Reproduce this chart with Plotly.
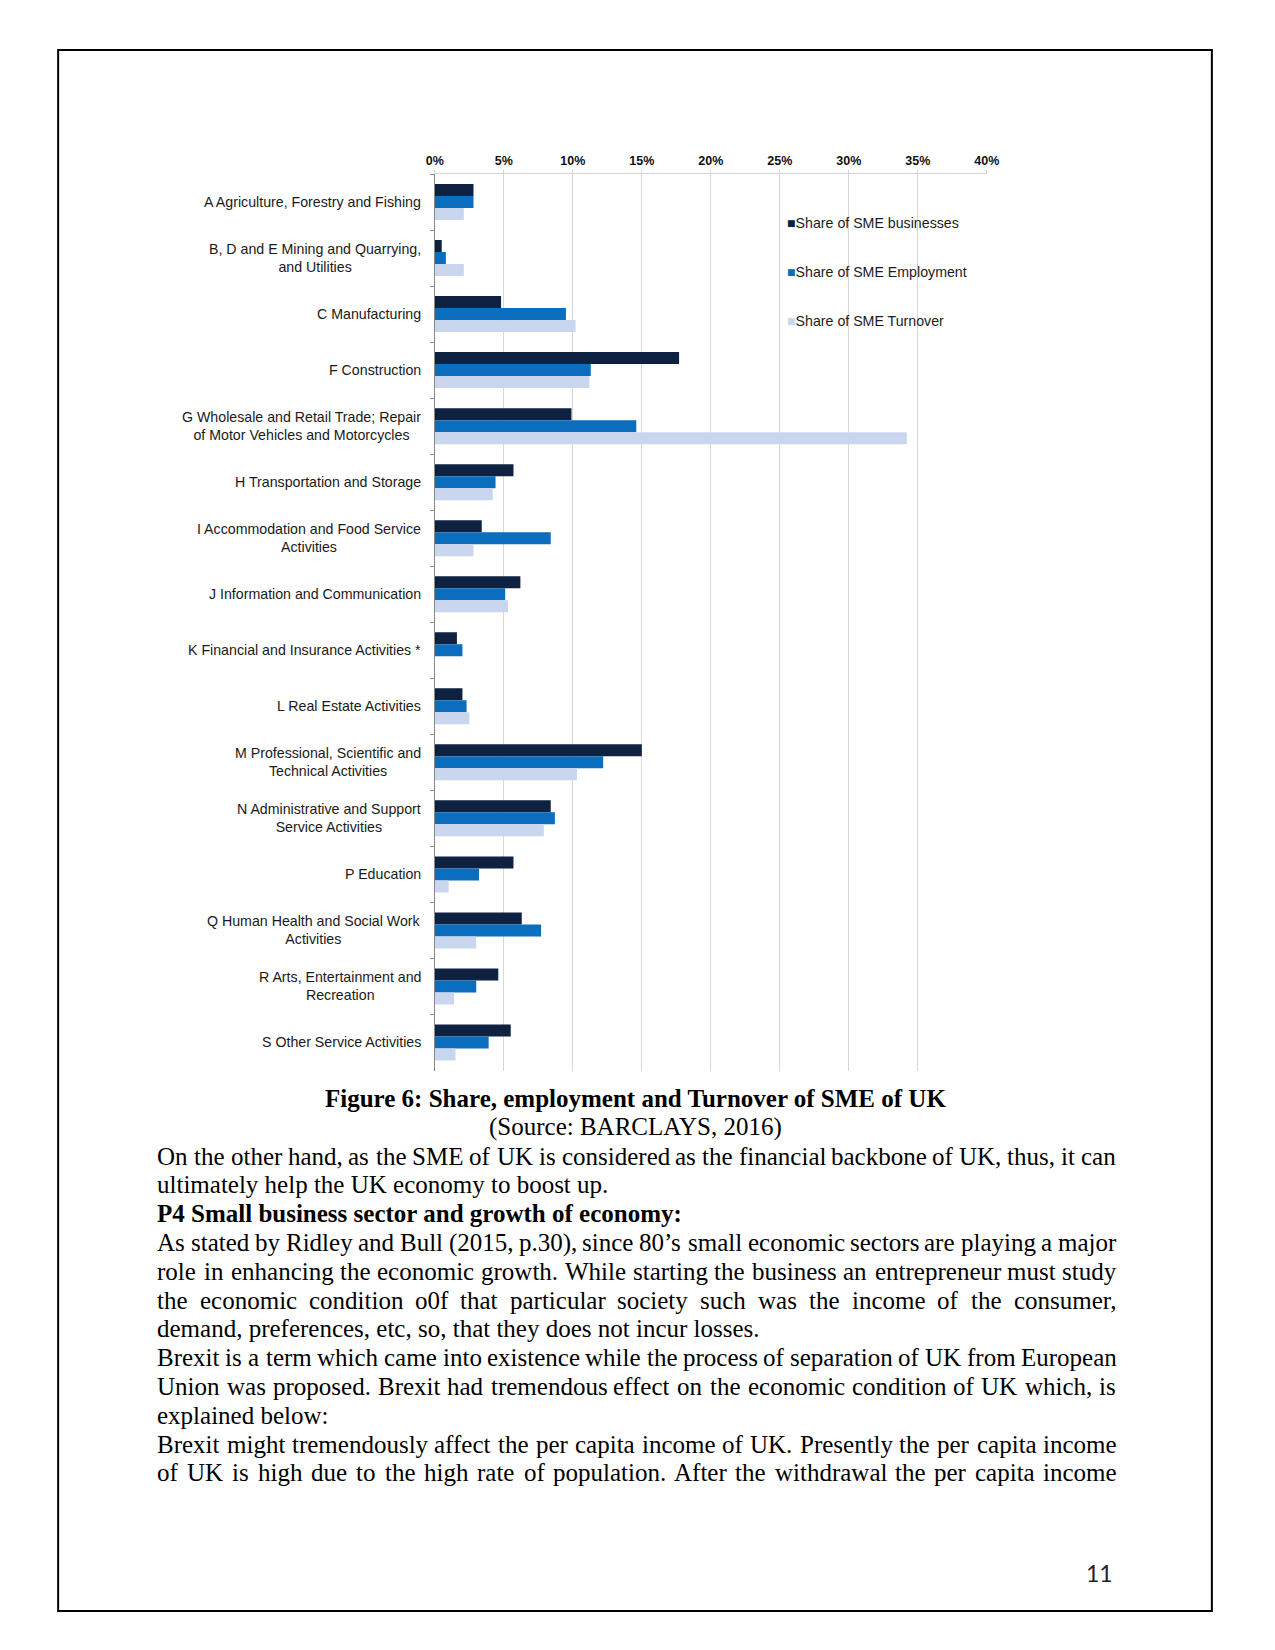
import plotly.graph_objects as go

# ---------------- data ----------------
categories = [
    "A Agriculture, Forestry and Fishing",
    "B, D and E Mining and Quarrying,<br>and Utilities",
    "C Manufacturing",
    "F Construction",
    "G Wholesale and Retail Trade; Repair<br>of Motor Vehicles and Motorcycles",
    "H Transportation and Storage",
    "I Accommodation and Food Service<br>Activities",
    "J Information and Communication",
    "K Financial and Insurance Activities *",
    "L Real Estate Activities",
    "M Professional, Scientific and<br>Technical Activities",
    "N Administrative and Support<br>Service Activities",
    "P Education",
    "Q Human Health and Social Work<br>Activities",
    "R Arts, Entertainment and<br>Recreation",
    "S Other Service Activities",
]
share_businesses = [2.8, 0.5, 4.8, 17.7, 9.9, 5.7, 3.4, 6.2, 1.6, 2.0, 15.0, 8.4, 5.7, 6.3, 4.6, 5.5]
share_employment = [2.8, 0.8, 9.5, 11.3, 14.6, 4.4, 8.4, 5.1, 2.0, 2.3, 12.2, 8.7, 3.2, 7.7, 3.0, 3.9]
share_turnover = [2.1, 2.1, 10.2, 11.2, 34.2, 4.2, 2.8, 5.3, None, 2.5, 10.3, 7.9, 1.0, 3.0, 1.4, 1.5]
series_names = ["Share of SME businesses", "Share of SME Employment", "Share of SME Turnover"]
tick_values = [0, 5, 10, 15, 20, 25, 30, 35, 40]
tick_labels = ["0%", "5%", "10%", "15%", "20%", "25%", "30%", "35%", "40%"]

caption = "Figure 6: Share, employment and Turnover of SME of UK"
source = "(Source: BARCLAYS, 2016)"
body_lines = [
    ("On the other hand, as the SME of UK is considered as the financial backbone of UK, thus, it can", "j"),
    ("ultimately help the UK economy to boost up.", "l"),
    ("P4 Small business sector and growth of economy:", "lb"),
    ("As stated by Ridley and Bull (2015, p.30), since 80\u2019s small economic sectors are playing a major", "j"),
    ("role in enhancing the economic growth. While starting the business an entrepreneur must study", "j"),
    ("the economic condition o0f that particular society such was the income of the consumer,", "j"),
    ("demand, preferences, etc, so, that they does not incur losses.", "l"),
    ("Brexit is a term which came into existence while the process of separation of UK from European", "j"),
    ("Union was proposed. Brexit had tremendous effect on the economic condition of UK which, is", "j"),
    ("explained below:", "l"),
    ("Brexit might tremendously affect the per capita income of UK. Presently the per capita income", "j"),
    ("of UK is high due to the high rate of population. After the withdrawal the per capita income", "j"),
]
page_number = "11"

# ---------------- layout constants ----------------
W, H = 1275, 1650
colors = ["#0e2140", "#0a6dbd", "#c9d6ee"]
X0, X40 = 433.3, 995.0        # pixel positions of 0% and 40%
PT, PB = 174.0, 1070.5        # plot top / bottom in pixels


def px(x):
    return x / W


def py(y):
    return 1 - y / H


fig = go.Figure()
for name, vals, col in zip(series_names, [share_businesses, share_employment, share_turnover], colors):
    fig.add_trace(go.Bar(
        y=categories, x=vals, name=name, orientation="h",
        marker=dict(color=col, line=dict(width=0)),
    ))

fig.update_layout(
    width=W, height=H, autosize=False,
    margin=dict(l=0, r=0, t=0, b=0),
    paper_bgcolor="white", plot_bgcolor="white",
    barmode="group", bargap=0.357, bargroupgap=0,
    showlegend=False,
    font=dict(family="Liberation Sans", color="#222"),
)
fig.update_xaxes(
    domain=[px(X0), px(X40)], range=[0, 40], side="top",
    tickvals=tick_values, ticktext=["<b>%s</b>" % t for t in tick_labels],
    tickfont=dict(family="Liberation Sans", size=12.5, color="#111"),
    showgrid=True, gridcolor="#d6d6d6", gridwidth=1,
    zeroline=False, showline=True, linecolor="#d4d4d4", linewidth=1,
    ticks="outside", ticklen=3, tickcolor="#d4d4d4",
)
fig.update_yaxes(
    domain=[py(PB), py(PT)], type="category", autorange="reversed",
    showticklabels=False, ticks="outside", tickson="boundaries", ticklen=4,
    tickcolor="#888", showline=True, linecolor="#888", linewidth=1,
    showgrid=False, zeroline=False,
)

annotations = []
# category labels (centered multi-line blocks, right edge near the axis)
for c in categories:
    annotations.append(dict(
        x=px(421), xref="paper", y=c, yref="y", text=c, showarrow=False,
        xanchor="right", yanchor="middle", align="center",
        font=dict(family="Liberation Sans", size=14.2, color="#1a1a1a"),
    ))
# legend
for i, (name, col) in enumerate(zip(series_names, colors)):
    annotations.append(dict(
        x=px(790), xref="paper", y=py(222.5 + 49.5 * i), yref="paper",
        text="<span style='color:%s'>\u25a0</span>%s" % (col, name),
        showarrow=False, xanchor="left", yanchor="middle",
        font=dict(family="Liberation Sans", size=14.2, color="#1c1c1c"),
    ))

# ---------------- page text ----------------
TIMES = {
    ' ': 250, '!': 333, '"': 408, "'": 180, '(': 333, ')': 333, ',': 250, '-': 333, '.': 250,
    '/': 278, ':': 278, ';': 278, '*': 500, '\u2019': 333,
    'A': 722, 'B': 667, 'C': 667, 'D': 722, 'E': 611, 'F': 556, 'G': 722, 'H': 722, 'I': 333,
    'J': 389, 'K': 722, 'L': 611, 'M': 889, 'N': 722, 'O': 722, 'P': 556, 'Q': 722, 'R': 667,
    'S': 556, 'T': 611, 'U': 722, 'V': 722, 'W': 944, 'X': 722, 'Y': 722, 'Z': 611,
    'a': 444, 'b': 500, 'c': 444, 'd': 500, 'e': 444, 'f': 333, 'g': 500, 'h': 500, 'i': 278,
    'j': 278, 'k': 500, 'l': 278, 'm': 778, 'n': 500, 'o': 500, 'p': 500, 'q': 500, 'r': 333,
    's': 389, 't': 278, 'u': 500, 'v': 500, 'w': 722, 'x': 500, 'y': 500, 'z': 444,
}
FS = 25
LEFT, RIGHT = 150.0, 1125.0


def text_width(s):
    return sum(TIMES.get(ch, 500) for ch in s) / 1000.0 * FS


serif = dict(family="Liberation Serif", size=FS, color="black")

Y0, DY = 1098.5, 28.8
annotations.append(dict(x=px(637.5), xref="paper", y=py(Y0), yref="paper", text="<b>%s</b>" % caption,
                        showarrow=False, xanchor="center", yanchor="middle", font=serif, borderpad=0))
annotations.append(dict(x=px(637.5), xref="paper", y=py(Y0 + DY), yref="paper", text=source,
                        showarrow=False, xanchor="center", yanchor="middle", font=serif, borderpad=0))

for k, (line, kind) in enumerate(body_lines):
    yy = py(Y0 + DY * (k + 2))
    if kind == "j":
        words = line.split(" ")
        widths = [text_width(w) for w in words]
        gap = (RIGHT - LEFT - sum(widths)) / (len(words) - 1)
        xx = LEFT
        for w, wd in zip(words, widths):
            annotations.append(dict(x=px(xx), xref="paper", y=yy, yref="paper", text=w,
                                    showarrow=False, xanchor="left", yanchor="middle",
                                    font=serif, borderpad=0))
            xx += wd + gap
    else:
        txt = "<b>%s</b>" % line if kind == "lb" else line
        annotations.append(dict(x=px(LEFT), xref="paper", y=yy, yref="paper", text=txt,
                                showarrow=False, xanchor="left", yanchor="middle",
                                font=serif, borderpad=0))

annotations.append(dict(x=px(1124), xref="paper", y=py(1573), yref="paper", text=page_number,
                        showarrow=False, xanchor="right", yanchor="middle",
                        font=dict(family="Lato", size=23, color="#222"), borderpad=0))

fig.update_layout(annotations=annotations)

# page border
fig.add_shape(type="rect", xref="paper", yref="paper",
              x0=px(50), x1=px(1224), y0=py(1611), y1=py(50),
              line=dict(color="black", width=2), fillcolor="rgba(0,0,0,0)", layer="above")

fig.write_html(
    "out.html",
    config={"displayModeBar": False, "responsive": False},
    post_script="document.body.style.margin='0';",
)
